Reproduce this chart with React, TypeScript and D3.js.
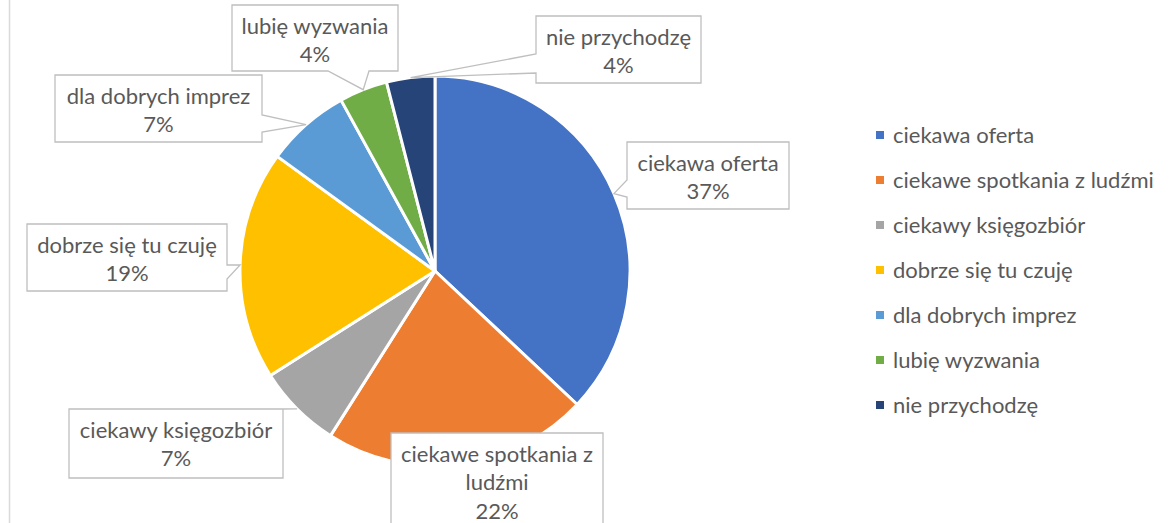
import React, { useEffect, useRef } from "react";
import * as d3 from "d3";

const categories = [
  "ciekawa oferta",
  "ciekawe spotkania z ludźmi",
  "ciekawy księgozbiór",
  "dobrze się tu czuję",
  "dla dobrych imprez",
  "lubię wyzwania",
  "nie przychodzę",
];
const values = [37, 22, 7, 19, 7, 4, 4];
const colors = ["#4472C4", "#ED7D31", "#A5A5A5", "#FFC000", "#5B9BD5", "#70AD47", "#264478"];

// callout boxes: [x0, y0, x1, y1], wedge side and the two attach points along that edge
const callouts = [
  { box: [627, 142, 789, 209], side: "left", a: 180, b: 197, lines: ["ciekawa oferta"] },
  { box: [391, 433, 603, 545], side: "none", a: 0, b: 0, lines: ["ciekawe spotkania z", "ludźmi"] },
  { box: [69, 409, 283, 478], side: "top", a: 247, b: 283, lines: ["ciekawy księgozbiór"] },
  { box: [27, 224, 227, 291], side: "right", a: 265, b: 279, lines: ["dobrze się tu czuję"] },
  { box: [55, 75, 262, 142], side: "right", a: 115, b: 132, lines: ["dla dobrych imprez"] },
  { box: [232, 5, 398, 71], side: "bottom", a: 328, b: 369, lines: ["lubię wyzwania"] },
  { box: [536, 16, 701, 83], side: "left", a: 54, b: 73, lines: ["nie przychodzę"] },
];

const W = 1169, H = 523;
const cx = 435, cy = 271, R = 195;
const font = "Lato, 'Open Sans', sans-serif";

function calloutPath(c: any, tip: [number, number]) {
  const [x0, y0, x1, y1] = c.box;
  const [tx, ty] = tip;
  const p = d3.path();
  p.moveTo(x0, y0);
  if (c.side === "top") { p.lineTo(c.a, y0); p.lineTo(tx, ty); p.lineTo(c.b, y0); }
  p.lineTo(x1, y0);
  if (c.side === "right") { p.lineTo(x1, c.a); p.lineTo(tx, ty); p.lineTo(x1, c.b); }
  p.lineTo(x1, y1);
  if (c.side === "bottom") { p.lineTo(c.b, y1); p.lineTo(tx, ty); p.lineTo(c.a, y1); }
  p.lineTo(x0, y1);
  if (c.side === "left") { p.lineTo(x0, c.b); p.lineTo(tx, ty); p.lineTo(x0, c.a); }
  p.closePath();
  return p.toString();
}

export default function App() {
  const ref = useRef<SVGSVGElement>(null);

  useEffect(() => {
    const svg = d3.select(ref.current);
    svg.selectAll("*").remove();

    svg.append("rect").attr("width", W).attr("height", H).attr("fill", "#fff");
    svg.append("line")
      .attr("x1", 9.5).attr("x2", 9.5).attr("y1", 0).attr("y2", H)
      .attr("stroke", "#d9d9d9").attr("stroke-width", 1.5);

    const total = d3.sum(values);
    const pie = d3.pie<number>().sort(null).value(d => d);
    const arcs = pie(values);
    const arc = d3.arc<any>().innerRadius(0).outerRadius(R);
    const edge = d3.arc<any>().innerRadius(R).outerRadius(R);

    const g = svg.append("g").attr("transform", `translate(${cx},${cy})`);
    g.selectAll("path")
      .data(arcs)
      .enter().append("path")
      .attr("d", arc)
      .attr("fill", (d, i) => colors[i])
      .attr("stroke", "#fff")
      .attr("stroke-width", 3)
      .attr("stroke-linejoin", "round");

    // callouts
    arcs.forEach((d, i) => {
      const c = callouts[i];
      const [ex, ey] = edge.centroid(d);
      const tip: [number, number] = [cx + ex, cy + ey];
      svg.append("path")
        .attr("d", calloutPath(c, tip))
        .attr("fill", "#fff")
        .attr("stroke", "#bfbfbf")
        .attr("stroke-width", 1.3);
      const lines = [...c.lines, d3.format(".0%")(values[i] / total)];
      const mx = (c.box[0] + c.box[2]) / 2;
      const top = c.box[1] + 21;
      lines.forEach((t, k) => {
        svg.append("text")
          .attr("x", mx)
          .attr("y", top + k * 28.5)
          .attr("dy", "0.35em")
          .attr("text-anchor", "middle")
          .attr("font-family", font)
          .attr("font-size", 22)
          .attr("fill", "#595959")
          .text(t);
      });
    });

    // legend
    const ly = d3.scalePoint<string>().domain(categories).range([135, 405]);
    const leg = svg.append("g");
    categories.forEach((cat, i) => {
      leg.append("rect")
        .attr("x", 876).attr("y", ly(cat)! - 4)
        .attr("width", 8).attr("height", 8)
        .attr("fill", colors[i]);
      leg.append("text")
        .attr("x", 893).attr("y", ly(cat)!)
        .attr("dy", "0.35em")
        .attr("font-family", font)
        .attr("font-size", 22)
        .attr("fill", "#595959")
        .text(cat);
    });
  }, []);

  return (
    <div style={{ position: "absolute", left: 0, top: 0 }}>
      <svg ref={ref} width={W} height={H} style={{ display: "block" }} />
    </div>
  );
}
